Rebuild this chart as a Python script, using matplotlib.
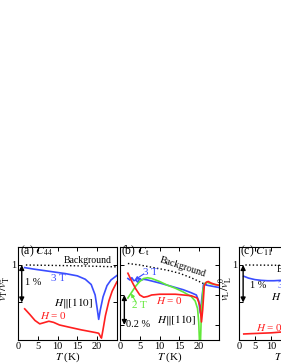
import matplotlib
matplotlib.use("Agg")
import matplotlib.pyplot as plt

plt.rcParams["font.family"] = ["Liberation Serif", "DejaVu Serif"]
plt.rcParams["mathtext.fontset"] = "stix"

BLUE = "#3a4dff"
RED = "#ff1f1f"
GREEN = "#62e83a"

# panel (a) C44, values in % relative to v0
a_bg_T = [2, 8, 14, 20, 25]
a_bg = [0.0, -0.01, -0.02, -0.035, -0.05]
a_3T_T = [1.7, 4, 8, 12, 15, 17, 18.5, 19.5, 20.0, 20.4, 20.8, 21.5, 22.5, 23.5, 25]
a_3T = [-0.07, -0.11, -0.17, -0.23, -0.29, -0.38, -0.52, -0.8, -1.15, -1.45, -1.2,
        -0.85, -0.55, -0.4, -0.28]
a_0T_T = [1.7, 3, 4.3, 5.5, 6.5, 7.8, 9, 10.5, 13, 16, 18, 19.5, 20.4, 20.8, 21.1,
          21.5, 22.1, 23, 23.8, 25]
a_0T = [-1.17, -1.32, -1.48, -1.57, -1.54, -1.50, -1.53, -1.60, -1.66, -1.73, -1.77,
        -1.80, -1.82, -1.90, -1.95, -1.72, -1.35, -0.95, -0.7, -0.45]

# panel (b) Ct
b_bg_T = [2, 5, 8, 12, 15, 18, 20, 22]
b_bg = [0.01, 0.0, -0.015, -0.035, -0.055, -0.085, -0.11, -0.135]
b_3T_T = [2, 2.5, 3, 3.5, 4, 4.5, 5, 5.5, 6, 7, 8.5, 10, 12, 14, 16, 18, 19.3, 19.9,
          20.3, 20.7, 21.1, 21.5, 22, 23, 24, 25]
b_3T = [-0.09, -0.1, -0.085, -0.105, -0.1, -0.115, -0.09, -0.1, -0.095, -0.1, -0.11,
        -0.12, -0.135, -0.15, -0.165, -0.185, -0.2, -0.24, -0.32, -0.22, -0.13,
        -0.125, -0.135, -0.14, -0.145, -0.15]
b_0T_T = [2, 3, 4, 5, 6, 7, 8, 10, 12, 14, 16, 18, 19.5, 20.2, 20.6, 20.9, 21.3, 21.8,
          22.3, 23, 24, 25]
b_0T = [-0.055, -0.11, -0.16, -0.2, -0.215, -0.21, -0.2, -0.195, -0.195, -0.195,
        -0.2, -0.205, -0.22, -0.27, -0.38, -0.3, -0.14, -0.115, -0.11, -0.12,
        -0.13, -0.135]
b_2T_T = [2, 3, 4, 5, 6, 7, 8, 10, 12, 14, 16, 18, 19, 19.6, 19.9, 20.1, 20.3, 20.6,
          21, 21.5, 22, 23, 24, 25]
b_2T = [-0.22, -0.18, -0.14, -0.11, -0.09, -0.085, -0.09, -0.11, -0.135, -0.155,
        -0.18, -0.21, -0.24, -0.29, -0.38, -0.52, -0.55, -0.3, -0.16, -0.12, -0.115,
        -0.125, -0.13, -0.135]

# panel (c) C11
c_bg_T = [2, 15, 30]
c_bg = [0.0, -0.01, -0.02]
c_3T_T = [1.5, 3, 5, 7, 9, 11, 13, 15]
c_3T = [-0.3, -0.35, -0.39, -0.41, -0.42, -0.42, -0.41, -0.4]
c_0T_T = [1.5, 4, 7, 10, 13, 15]
c_0T = [-1.84, -1.83, -1.82, -1.81, -1.79, -1.78]

fig = plt.figure(figsize=(2.81, 3.63), dpi=100)
ax_a = fig.add_axes([0.064, 0.0634, 0.352, 0.2562])
ax_b = fig.add_axes([0.427, 0.0634, 0.352, 0.2562])
ax_c = fig.add_axes([0.8505, 0.0634, 0.34, 0.2562])

for ax in (ax_a, ax_b, ax_c):
    ax.tick_params(direction="in", top=True, right=True, labelsize=7.5,
                   length=3, width=0.7, pad=1.5)
    for s in ax.spines.values():
        s.set_linewidth(0.8)
    ax.set_xlabel(r"$T$ (K)", fontsize=8, labelpad=-0.5)

def dbl_arrow(ax, x, y0, y1):
    ax.annotate("", xy=(x, y1), xytext=(x, y0),
                arrowprops=dict(arrowstyle="<|-|>", color="k", lw=1.0,
                                mutation_scale=7, shrinkA=0, shrinkB=0))

# (a)
ax = ax_a
ax.plot(a_bg_T, a_bg, ":", color="k", lw=1)
ax.plot(a_3T_T, a_3T, color=BLUE, lw=1.2)
ax.plot(a_0T_T, a_0T, color=RED, lw=1.2)
ax.set_xlim(0, 25)
ax.set_ylim(-2.0, 0.48)
ax.set_xticks([0, 5, 10, 15, 20, 25], ["0", "5", "10", "15", "20", ""])
ax.set_yticks([0, -1, -2], ["1", "", ""])
ax.set_ylabel(r"$v_{\rm T}/v_{\rm T}^{0}$", fontsize=8)
ax.yaxis.set_label_coords(-0.055, 0.55)
ax.text(0.4, 0.36, r"(a) $C_{44}$", fontsize=8.5, va="center")
ax.text(17.5, 0.13, "Background", fontsize=7, ha="center", va="center")
ax.text(10.2, -0.35, "3 T", fontsize=8, color=BLUE, ha="center", va="center")
ax.text(14.1, -1.01, r"$H\|[110]$", fontsize=8, ha="center", va="center")
ax.text(8.9, -1.36, r"$H$ = 0", fontsize=8, color=RED, ha="center", va="center")
ax.text(1.7, -0.48, "1 %", fontsize=7.5, va="center")
dbl_arrow(ax, 0.95, 0, -1)

# (b)
ax = ax_b
ax.plot(b_bg_T, b_bg, ":", color="k", lw=1)
ax.plot(b_3T_T, b_3T, color=BLUE, lw=1.2)
ax.plot(b_2T_T, b_2T, color=GREEN, lw=1.2)
ax.plot(b_0T_T, b_0T, color=RED, lw=1.2)
ax.set_xlim(0, 25)
ax.set_ylim(-0.5, 0.12)
ax.set_xticks([0, 5, 10, 15, 20, 25], ["0", "5", "10", "15", "20", ""])
ax.set_yticks([0, -0.2, -0.4], ["", "", ""])
ax.text(0.2, 0.09, r"(b) $C_{\rm t}$", fontsize=8.5, va="center")
ax.text(16.0, -0.012, "Background", fontsize=7, ha="center", va="center",
        rotation=-18)
ax.text(7.8, -0.047, "3 T", fontsize=8, color=BLUE, ha="center", va="center")
ax.annotate("", xy=(3.7, -0.1), xytext=(6.0, -0.06),
            arrowprops=dict(arrowstyle="-|>", color=BLUE, lw=0.8,
                            mutation_scale=5, shrinkA=0, shrinkB=0))
ax.text(5.0, -0.27, "2 T", fontsize=8, color=GREEN, ha="center", va="center")
ax.annotate("", xy=(2.8, -0.19), xytext=(4.0, -0.245),
            arrowprops=dict(arrowstyle="-|>", color=GREEN, lw=0.8,
                            mutation_scale=5, shrinkA=0, shrinkB=0))
ax.text(12.6, -0.235, r"$H$ = 0", fontsize=8, color=RED, ha="center", va="center")
ax.text(14.4, -0.37, r"$H\|[110]$", fontsize=8, ha="center", va="center")
ax.text(1.6, -0.4, "0.2 %", fontsize=7.5, va="center")
dbl_arrow(ax, 1.1, -0.2, -0.4)

# (c)
ax = ax_c
ax.plot(c_bg_T, c_bg, ":", color="k", lw=1)
ax.plot(c_3T_T, c_3T, color=BLUE, lw=1.2)
ax.plot(c_0T_T, c_0T, color=RED, lw=1.2)
ax.set_xlim(0, 30)
ax.set_ylim(-2.0, 0.48)
ax.set_xticks([0, 5, 10, 15, 20, 25, 30])
ax.set_yticks([0, -1, -2], ["1", "", ""])
ax.set_ylabel(r"$v_{\rm L}/v_{\rm L}^{0}$", fontsize=8)
ax.yaxis.set_label_coords(-0.04, 0.55)
ax.text(0.3, 0.36, r"(c) $C_{11}$", fontsize=8.5, va="center")
ax.text(11.9, -0.13, "Background", fontsize=7, va="center")
ax.text(3.5, -0.56, "1 %", fontsize=7.5, va="center")
ax.text(12.3, -0.56, "3 T", fontsize=8, color=BLUE, va="center")
ax.text(10.0, -0.85, r"$H\|[110]$", fontsize=8, va="center")
ax.text(5.2, -1.68, r"$H$ = 0", fontsize=8, color=RED, va="center")
dbl_arrow(ax, 1.3, 0, -1)

fig.savefig("out.png", dpi=100)
